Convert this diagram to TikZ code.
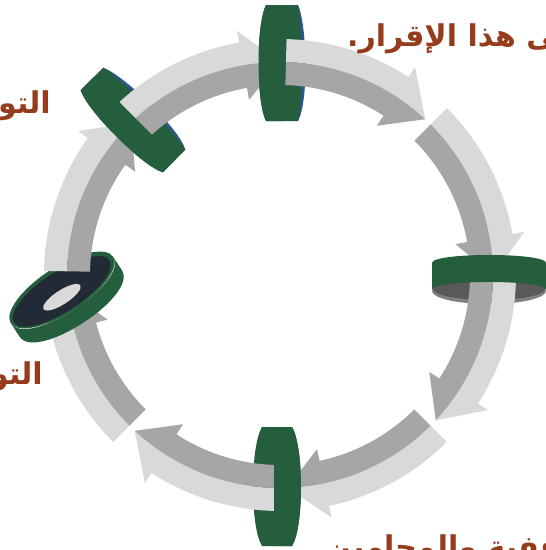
\documentclass[tikz,border=0pt]{standalone}
\usepackage{fontspec}
\TeXXeTstate=1
\newfontfamily\arabicfont[Script=Arabic]{DejaVu Sans}
\definecolor{lightg}{RGB}{217,217,217}
\definecolor{darkg}{RGB}{166,166,166}
\definecolor{ringgreen}{RGB}{37,94,61}
\definecolor{ringblue}{RGB}{47,85,151}
\definecolor{ringnavy}{RGB}{34,42,53}
\definecolor{inner}{RGB}{89,89,89}
\definecolor{lip}{RGB}{127,127,127}
\definecolor{labelc}{RGB}{148,60,28}
\tikzset{
  lbl/.style={text=labelc, font=\arabicfont\bfseries\fontsize{30}{36}\selectfont, inner sep=0pt},
}
\newcommand\arrowseg[2]{%
  \pgfmathsetmacro\segbase{#2+10}%
  \fill[lightg] (#1:213) -- (#1:236) arc[start angle=#1, end angle=\segbase, radius=236] -- (\segbase:248) -- (#2:213) arc[start angle=#2, end angle=#1, radius=213] -- cycle;
  \fill[darkg] (#1:213) -- (#1:190) arc[start angle=#1, end angle=\segbase, radius=190] -- (\segbase:178) -- (#2:213) arc[start angle=#2, end angle=#1, radius=213] -- cycle;
}
\newcommand\barrelback{%
  \fill[ringblue] (16,-58) .. controls (25,-38) and (27,38) .. (16,58) -- cycle;
  \fill[ringgreen] (-16,-58) -- (16,-58) .. controls (21,-38) and (22,38) .. (16,58) -- (-16,58) .. controls (-26,38) and (-26,-38) .. (-16,-58) -- cycle;
}
\newcommand\barrelfront{%
  \fill[ringgreen] (-16,-58) -- (3,-58) -- (3,58) -- (-16,58) .. controls (-26,38) and (-26,-38) .. (-16,-58) -- cycle;
}
\begin{document}
\begin{tikzpicture}[x=1pt,y=-1pt]
\useasboundingbox (0,0) rectangle (546,550);
\clip (0,0) rectangle (546,550);
\fill[white] (0,0) rectangle (546,550);
% segment whose head lies under the left ring
\begin{scope}[shift={(280,275)}, yscale=-1]
  \arrowseg{-135}{-175.5}
\end{scope}
% ring backs
\begin{scope}[shift={(282,63)}] \barrelback \end{scope}
\begin{scope}[shift={(133,120)}, rotate=45] \barrelback \end{scope}
\begin{scope}[shift={(277,487)}]
  \fill[ringgreen] (-15,-60) -- (15,-60) .. controls (27,-40) and (27,40) .. (15,59) -- (-15,59) .. controls (-27,40) and (-27,-40) .. (-15,-60) -- cycle;
\end{scope}
\fill[lip] (489,291) ellipse[x radius=57, y radius=13];
\fill[inner] (489,289) ellipse[x radius=56, y radius=11];
\begin{scope}[shift={(62,290)}, rotate=33]
  \fill[ringgreen] (0,0) ellipse[x radius=61, y radius=23];
  \fill[ringnavy] (-1,1) ellipse[x radius=57, y radius=20];
  \fill[lightg] (-4,6) ellipse[x radius=22, y radius=7];
\end{scope}
% remaining arrow segments
\begin{scope}[shift={(280,275)}, yscale=-1]
  \arrowseg{88.4}{47}
  \arrowseg{45}{0}
  \arrowseg{-0.5}{-43}
  \arrowseg{-45}{-88}
  \arrowseg{-91.4}{-133}
  \arrowseg{179}{134.5}
  \arrowseg{132.9}{90}
\end{scope}
% ring fronts
\begin{scope}[shift={(282,63)}] \barrelfront \end{scope}
\begin{scope}[shift={(133,120)}, rotate=45] \barrelfront \end{scope}
\begin{scope}[shift={(277,487)}]
  \fill[ringgreen] (-3,-60) -- (15,-60) .. controls (27,-40) and (27,40) .. (15,59) -- (-3,59) -- cycle;
\end{scope}
\fill[ringgreen] (432,263) .. controls (432,252.3) and (546,252.3) .. (546,263) -- (546,290) .. controls (546,279.3) and (432,279.3) .. (432,290) -- cycle;
\begin{scope}[shift={(62,290)}, rotate=33]
  \fill[ringgreen] (-61,0) .. controls (-61,30.7) and (61,30.7) .. (61,0) -- (61,16) .. controls (61,46.7) and (-61,46.7) .. (-61,16) -- cycle;
\end{scope}
% labels
\node[lbl, anchor=base west] (t1) at (347,46) {\beginR على هذا الإقرار.\endR};
\node[lbl, anchor=base east] (t2) at (51,113) {\beginR التو\endR};
\node[lbl, anchor=base east] (t3) at (43,384) {\beginR التو\endR};
\node[lbl, anchor=base west] (t4) at (326,557) {\beginR وقفية والمحامين\endR};
\end{tikzpicture}
\end{document}
